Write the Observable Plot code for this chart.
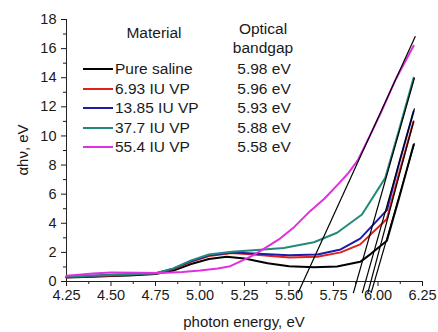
<!DOCTYPE html>
<html>
<head>
<meta charset="utf-8">
<script src="https://cdn.jsdelivr.net/npm/d3@7"></script>
<script src="https://cdn.jsdelivr.net/npm/@observablehq/plot@0.6"></script>
<style>
  body { margin: 0; background: #fff; }
  #wrap { position: relative; width: 438px; height: 332px; font-family: "Liberation Sans", Arial, sans-serif; color: #1a1a1a; }
  #wrap .t { position: absolute; white-space: nowrap; line-height: 1; }
  .sw { position: absolute; height: 2px; width: 30px; }
</style>
</head>
<body>
<div id="wrap"></div>
<script>
// ---- data ----
const seriesNames = ["Pure saline", "6.93 IU VP", "13.85 IU VP", "37.7 IU VP", "55.4 IU VP"];
const seriesColors = ["#000000", "#e0201c", "#1c1ca8", "#24887c", "#e030e0"];
const bandgaps = [5.98, 5.96, 5.93, 5.88, 5.58];
const bandgapLabels = ["5.98 eV", "5.96 eV", "5.93 eV", "5.88 eV", "5.58 eV"];

const salineX = [4.25, 4.4, 4.5, 4.6, 4.75, 4.85, 4.95, 5.05, 5.15, 5.25, 5.38, 5.5, 5.64, 5.77, 5.9, 5.96, 6.05, 6.12, 6.2];
const salineY = [0.28, 0.33, 0.38, 0.42, 0.52, 0.75, 1.2, 1.55, 1.7, 1.58, 1.25, 1.05, 0.98, 1.03, 1.35, 1.9, 2.8, 5.8, 9.4];

const vp693X = [4.25, 4.5, 4.75, 4.85, 4.95, 5.05, 5.18, 5.3, 5.5, 5.66, 5.79, 5.9, 6.05, 6.12, 6.2];
const vp693Y = [0.3, 0.42, 0.55, 0.85, 1.35, 1.75, 1.95, 1.85, 1.65, 1.7, 2.0, 2.55, 4.3, 7.5, 11.0];

const vp1385X = [4.25, 4.5, 4.75, 4.85, 4.95, 5.05, 5.18, 5.3, 5.5, 5.66, 5.79, 5.9, 6.05, 6.12, 6.2];
const vp1385Y = [0.33, 0.44, 0.56, 0.88, 1.4, 1.8, 2.0, 1.92, 1.8, 1.85, 2.2, 2.95, 4.9, 8.2, 11.7];

const vp377X = [4.25, 4.5, 4.75, 4.85, 4.95, 5.05, 5.18, 5.3, 5.47, 5.64, 5.77, 5.91, 6.04, 6.12, 6.2];
const vp377Y = [0.35, 0.45, 0.57, 0.9, 1.45, 1.85, 2.05, 2.15, 2.3, 2.7, 3.35, 4.6, 7.1, 10.5, 14.0];

const vp554X = [4.25, 4.4, 4.5, 4.65, 4.78, 4.9, 5.0, 5.1, 5.17, 5.23, 5.29, 5.34, 5.45, 5.53, 5.62, 5.7, 5.77, 5.83, 5.885, 5.95, 6.02, 6.1, 6.2];
const vp554Y = [0.4, 0.55, 0.62, 0.6, 0.58, 0.65, 0.75, 0.9, 1.05, 1.4, 1.75, 2.1, 2.95, 3.75, 4.85, 5.7, 6.6, 7.4, 8.3, 9.9, 11.7, 13.9, 16.2];

// tangent lines: x-intercept = bandgap, upper end point
const tangentTopX = [6.205, 6.2, 6.205, 6.205, 6.21];
const tangentTopY = [9.5, 11.0, 11.9, 14.0, 16.85];
const tangentBottomY = -0.8;

const xTicks = [4.25, 4.5, 4.75, 5.0, 5.25, 5.5, 5.75, 6.0, 6.25];
const xMinorTicks = [4.375, 4.625, 4.875, 5.125, 5.375, 5.625, 5.875, 6.125];
const yTicks = [0, 2, 4, 6, 8, 10, 12, 14, 16, 18];
const yMinorTicks = [1, 3, 5, 7, 9, 11, 13, 15, 17];

// ---- build tables ----
const seriesX = [salineX, vp693X, vp1385X, vp377X, vp554X];
const seriesY = [salineY, vp693Y, vp1385Y, vp377Y, vp554Y];
const curves = seriesX.map((xs, i) => xs.map((x, j) => ({x, y: seriesY[i][j], s: seriesNames[i]})));
const tangents = bandgaps.map((g, i) => {
  const slope = tangentTopY[i] / (tangentTopX[i] - g);
  return {x1: g + tangentBottomY / slope, y1: tangentBottomY, x2: tangentTopX[i], y2: tangentTopY[i]};
});

const chart = Plot.plot({
  width: 438,
  height: 332,
  marginLeft: 66,
  marginRight: 16,
  marginTop: 19,
  marginBottom: 51,
  style: {fontFamily: "'Liberation Sans', Arial, sans-serif", fontSize: "14.5px", color: "#1a1a1a", background: "transparent"},
  x: {domain: [4.25, 6.25]},
  y: {domain: [0, 18]},
  marks: [
    Plot.axisX({ticks: xMinorTicks, tickSize: 3, tickFormat: () => "", label: null, strokeWidth: 1}),
    Plot.axisX({ticks: xTicks, tickSize: 5, tickPadding: 3, tickFormat: d3.format(".2f"), label: null, strokeWidth: 1}),
    Plot.axisY({ticks: yMinorTicks, tickSize: 3, tickFormat: () => "", label: null, strokeWidth: 1}),
    Plot.axisY({ticks: yTicks, tickSize: 5, tickPadding: 5, tickFormat: d3.format("d"), label: null, strokeWidth: 1}),
    Plot.ruleY([0], {stroke: "#222", strokeWidth: 1}),
    Plot.ruleX([4.25], {stroke: "#222", strokeWidth: 1}),
    ...curves.map((c, i) => Plot.line(c, {x: "x", y: "y", stroke: seriesColors[i], strokeWidth: 2, curve: "linear"})),
    Plot.link(tangents, {x1: "x1", y1: "y1", x2: "x2", y2: "y2", stroke: "#000", strokeWidth: 1.2})
  ]
});

const wrap = document.getElementById("wrap");
wrap.appendChild(chart);
chart.style.position = "absolute";
chart.style.left = "0px";
chart.style.top = "0px";

function addText(txt, left, top, opts = {}) {
  const d = document.createElement("div");
  d.className = "t";
  d.textContent = txt;
  d.style.left = left + "px";
  d.style.top = top + "px";
  d.style.fontSize = (opts.size || 15.5) + "px";
  d.style.transform = opts.transform || "translate(-50%, -50%)";
  wrap.appendChild(d);
  return d;
}

// legend headers
addText("Material", 154, 33);
addText("Optical", 263, 29);
addText("bandgap", 263, 48);
const rowY = [69, 88.5, 108, 127.5, 147];
seriesNames.forEach((n, i) => {
  const sw = document.createElement("div");
  sw.className = "sw";
  sw.style.left = "83px";
  sw.style.top = (rowY[i] - 1) + "px";
  sw.style.background = seriesColors[i];
  wrap.appendChild(sw);
  addText(n, 115, rowY[i], {transform: "translate(0, -50%)"});
  addText(bandgapLabels[i], 264, rowY[i]);
});

// axis titles
addText("photon energy, eV", 244, 321, {size: 15});
addText("\u03B1h\u03BD, eV", 22, 150, {size: 15, transform: "translate(-50%, -50%) rotate(-90deg)"});
</script>
</body>
</html>
